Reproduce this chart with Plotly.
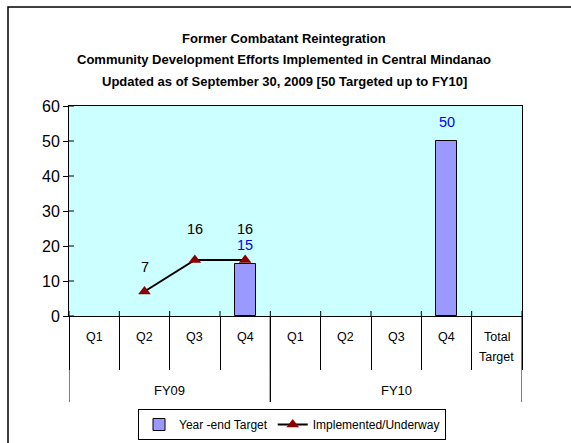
import plotly.graph_objects as go

categories = ["Q1", "Q2", "Q3", "Q4", "Q1", "Q2", "Q3", "Q4", "Total<br>Target"]
groups = ["FY09", "FY10"]
group_spans = [(0, 3), (4, 8)]
target_values = [None, None, None, 15, None, None, None, 50, None]
implemented_values = [None, 7, 16, 16, None, None, None, None, None]
title_lines = [
    "Former Combatant Reintegration",
    "Community Development Efforts Implemented in Central Mindanao",
    "Updated as of September 30, 2009 [50 Targeted up to FY10]",
]
y_ticks = [0, 10, 20, 30, 40, 50, 60]

FONT = "Liberation Sans, Arial, sans-serif"
W, H = 571, 443
L, R, T, B = 69, 49, 106, 127
PW, PH = W - L - R, H - T - B

def px_x(px):
    return (px - L) / PW

def px_y(py):
    return (H - B - py) / PH

x_idx = list(range(len(categories)))

fig = go.Figure()
fig.add_trace(go.Bar(
    x=x_idx, y=target_values, width=0.42, name="Year -end Target",
    marker=dict(color="#9999FF", line=dict(color="black", width=1)),
))
fig.add_trace(go.Scatter(
    x=x_idx, y=implemented_values, mode="lines+markers", name="Implemented/Underway",
    line=dict(color="black", width=2),
    marker=dict(symbol="triangle-up", size=11, color="#8B0000"),
    connectgaps=False,
))

annotations = []
for i, v in enumerate(target_values):
    if v is not None:
        annotations.append(dict(x=i, y=v, xref="x", yref="y", text=str(v), showarrow=False,
                                yanchor="middle", yshift=19,
                                font=dict(family=FONT, size=14.5, color="#0000FF")))
for i, v in enumerate(implemented_values):
    if v is not None:
        # labels that sit above a neighbouring bar label are lifted a little more
        shift = 31 if v >= 10 else 25
        annotations.append(dict(x=i, y=v, xref="x", yref="y", text=str(v), showarrow=False,
                                yanchor="middle", yshift=shift,
                                font=dict(family=FONT, size=14.5, color="black")))
for i, c in enumerate(categories):
    for k, part in enumerate(c.split("<br>")):
        annotations.append(dict(x=i, y=px_y(337 + 20 * k), xref="x", yref="paper", text=part,
                                showarrow=False, yanchor="middle",
                                font=dict(family=FONT, size=12.5, color="black")))
for g, (a, b) in zip(groups, group_spans):
    annotations.append(dict(x=(a + b) / 2, y=px_y(390), xref="x", yref="paper", text=g,
                            showarrow=False, yanchor="middle",
                            font=dict(family=FONT, size=13, color="black")))
for k, line in enumerate(title_lines):
    annotations.append(dict(x=px_x(284), y=px_y(38 + k * 21.5), xref="paper", yref="paper",
                            text="<b>" + line + "</b>", showarrow=False, yanchor="middle",
                            font=dict(family=FONT, size=13, color="black")))

shapes = []
# group dividers through label table
for a, b in group_spans:
    for xb in (a - 0.5, b + 0.5):
        shapes.append(dict(type="line", xref="x", yref="paper", x0=xb, x1=xb,
                           y0=0, y1=px_y(402), line=dict(color="black", width=1)))
# inside part of category ticks
for i in range(len(categories) + 1):
    xb = i - 0.5
    shapes.append(dict(type="line", xref="x", yref="paper", x0=xb, x1=xb,
                       y0=0, y1=5 / PH, line=dict(color="black", width=1)))
# inside part of y ticks
for v in y_ticks:
    shapes.append(dict(type="line", xref="paper", yref="y", x0=0, x1=5 / PW,
                       y0=v, y1=v, line=dict(color="black", width=1)))
# outer chart border
shapes.append(dict(type="rect", xref="paper", yref="paper", x0=px_x(8), x1=px_x(600),
                   y0=px_y(7), y1=px_y(470), line=dict(color="black", width=1.5),
                   fillcolor="rgba(0,0,0,0)", layer="below"))

fig.update_layout(
    width=W, height=H,
    margin=dict(l=L, r=R, t=T, b=B, pad=0, autoexpand=False),
    paper_bgcolor="white", plot_bgcolor="#CCFFFF",
    font=dict(family=FONT, size=14, color="black"),
    showlegend=True,
    legend=dict(orientation="h", x=px_x(292), xanchor="center", y=px_y(409), yanchor="top",
                bgcolor="white", bordercolor="black", borderwidth=1,
                font=dict(family=FONT, size=12, color="black"),
                tracegroupgap=0),
    annotations=annotations, shapes=shapes,
    bargap=0,
)
fig.update_xaxes(range=[-0.5, len(categories) - 0.5], tickmode="array",
                 tickvals=[i - 0.5 for i in range(len(categories) + 1)],
                 showticklabels=False, ticks="outside", ticklen=53, tickcolor="black", tickwidth=1,
                 showline=True, linecolor="black", linewidth=1, mirror=True,
                 showgrid=False, zeroline=False, fixedrange=True)
fig.update_yaxes(range=[0, 60], tickmode="array", tickvals=y_ticks,
                 ticks="outside", ticklen=5, tickcolor="black", tickwidth=1,
                 tickfont=dict(family=FONT, size=16, color="black"),
                 showline=True, linecolor="black", linewidth=1, mirror=True,
                 showgrid=False, zeroline=False, fixedrange=True)

fig.write_html("out.html", config={"displayModeBar": False},
               post_script="document.body.style.margin='0';document.body.style.overflow='hidden';")
